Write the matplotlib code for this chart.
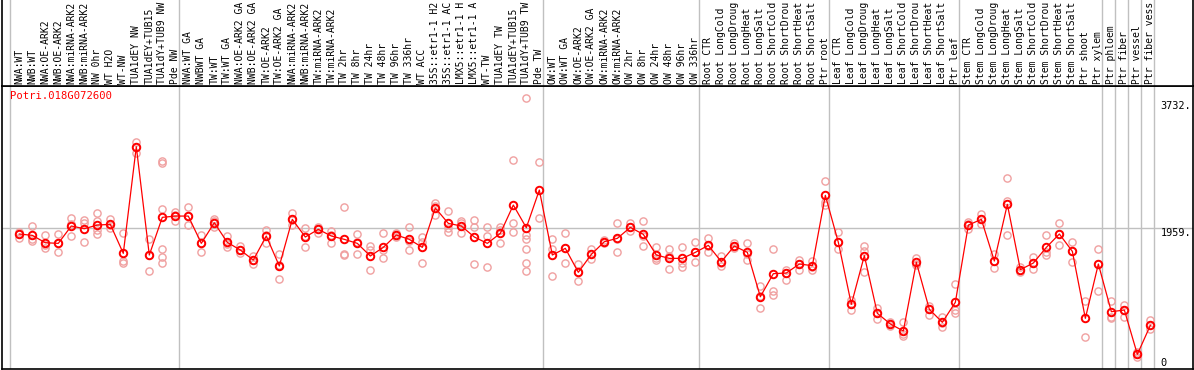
import numpy as np
import matplotlib
matplotlib.use("Agg")
import matplotlib.pyplot as plt

# sample names, in plotting order
labels = [
    "NWA:WT", "NWB:WT", "NWA:OE-ARK2", "NWB:OE-ARK2", "NWA:miRNA-ARK2", "NWB:miRNA-ARK2",
    "NW 0hr", "WT H2O", "WT-NW", "TUA1dEY NW", "TUA1dEY+TUB15 NW", "TUA1dY+TUB9 NW", "Pde NW",
    "NWA:WT GA", "NWBWT GA", "TW:WT", "TW:WT GA", "NWA:OE-ARK2 GA", "NWB:OE-ARK2 GA",
    "TW:OE-ARK2", "TW:OE-ARK2 GA", "NWA:miRNA-ARK2", "NWB:miRNA-ARK2", "TW:miRNA-ARK2",
    "TW:miRNA-ARK2", "TW 2hr", "TW 8hr", "TW 24hr", "TW 48hr", "TW 96hr", "TW 336hr", "WT ACC",
    "35S::etr1-1 H2O", "35S::etr1-1 ACC", "LMX5::etr1-1 H2O", "LMX5::etr1-1 ACC", "WT-TW",
    "TUA1dEY TW", "TUA1dEY+TUB15 TW", "TUA1dY+TUB9 TW", "Pde TW",
    "OW:WT", "OW:WT GA", "OW:OE-ARK2", "OW:OE-ARK2 GA", "OW:miRNA-ARK2", "OW:miRNA-ARK2",
    "OW 2hr", "OW 8hr", "OW 24hr", "OW 48hr", "OW 96hr", "OW 336hr",
    "Root CTR", "Root LongCold", "Root LongDrought", "Root LongHeat", "Root LongSalt",
    "Root ShortCold", "Root ShortDrought", "Root ShortHeat", "Root ShortSalt", "Ptr root",
    "Leaf CTR", "Leaf LongCold", "Leaf LongDrought", "Leaf LongHeat", "Leaf LongSalt",
    "Leaf ShortCold", "Leaf ShortDrought", "Leaf ShortHeat", "Leaf ShortSalt", "Ptr leaf",
    "Stem CTR", "Stem LongCold", "Stem LongDrought", "Stem LongHeat", "Stem LongSalt",
    "Stem ShortCold", "Stem ShortDrought", "Stem ShortHeat", "Stem ShortSalt", "Ptr shoot",
    "Ptr xylem", "Ptr phloem", "Ptr fiber", "Ptr vessel", "Ptr fiber vessel",
]

# first sample of each group (group separators)
group_starts = [0, 13, 41, 53, 63, 73, 84, 85, 86, 87, 88]

# mean expression
means = [
    1875, 1856, 1753, 1744, 1987, 1949, 2000, 2010, 1604, 3096, 1581, 2108, 2126,
    2126, 1744, 2033, 1758, 1651, 1511, 1847, 1427, 2080, 1833, 1940, 1847, 1800,
    1744, 1567, 1688, 1861, 1800, 1688, 2238, 2024, 1987, 1833, 1744, 1884, 2280,
    1963, 2490,
    1581, 1674, 1339, 1590, 1767, 1814, 1968, 1870, 1581, 1534, 1534, 1618,
    1716, 1488, 1707, 1618, 997, 1320, 1329, 1455, 1432, 2416,
    1758, 891, 1572, 765, 616, 518, 1479, 821, 639, 919,
    2000, 2080, 1497, 2290, 1376, 1469, 1688, 1875, 1632, 695, 1455,
    788, 811, 191, 597,
]

# replicate values
reps = [
    [1907, 1875, 1814], [1987, 1805, 1781], [1861, 1721, 1683], [1870, 1744, 1618],
    [2098, 2010, 1851], [2070, 2024, 1767], [2173, 2057, 1931, 1875], [2080, 2000, 1960],
    [1884, 1497, 1465], [3166, 3096, 3003], [1800, 1581, 1353],
    [2896, 2864, 2224, 1665, 1558, 1465], [2187, 2134, 2057],
    [2248, 2126, 2000], [1861, 1744, 1627], [2080, 2050, 1968], [1851, 1735, 1688],
    [1707, 1651, 1604], [1567, 1511, 1455], [1931, 1866, 1744], [1595, 1441, 1245],
    [2173, 2070, 2000], [1954, 1850, 1697], [1977, 1950, 1893], [1921, 1866, 1753],
    [2248, 1595, 1576], [1870, 1770, 1590], [1711, 1651, 1367], [1884, 1650, 1534],
    [1884, 1861, 1840], [1968, 1781, 1651], [1828, 1767, 1465], [2313, 2260, 2141],
    [2196, 1954, 1907], [2050, 2028, 1884], [2070, 1968, 1460], [1977, 1847, 1409],
    [1977, 1930, 1744], [2910, 2024, 1898], [3773, 1861, 1805, 1665, 1465, 1353],
    [2882, 2094],
    [1805, 1660, 1287], [1884, 1674, 1465], [1460, 1339, 1222], [1665, 1590, 1520],
    [1790, 1767, 1745], [2024, 1800, 1618], [2024, 1968, 1921], [2057, 1846, 1707],
    [1697, 1534, 1511], [1660, 1562, 1381], [1688, 1465, 1418], [1758, 1618, 1479],
    [1814, 1707, 1627], [1567, 1465, 1432], [1744, 1707, 1674], [1744, 1600, 1511],
    [1147, 1009, 835], [1660, 1077, 1021], [1371, 1329, 1236], [1516, 1455, 1376],
    [1502, 1420, 1376], [2617, 2327, 2280],
    [1898, 1758, 1665], [951, 891, 811], [1711, 1637, 1348], [835, 765, 690],
    [640, 616, 590], [639, 470, 446], [1544, 1460, 1441], [868, 821, 742],
    [718, 630, 569], [1176, 816, 769],
    [2047, 2010, 1940], [2155, 2080, 2015], [1590, 1500, 1395], [2663, 2336, 1861],
    [1413, 1376, 1343], [1553, 1469, 1390], [1861, 1630, 1581], [2024, 1880, 1721],
    [1767, 1640, 1488], [942, 438], [1660, 1460, 1073],
    [937, 718, 695], [881, 811, 718], [219, 191, 158], [672, 597, 541],
]

gene = "Potri.018G072600"
ytick_vals = [3732, 1959, 0]

W, H = 1194, 370
mono = "DejaVu Sans Mono"
grey = "#c0c0c0"
NCHAR = 14  # the label strip only holds this many characters

fig = plt.figure(figsize=(W / 100, H / 100), dpi=100)
ax = fig.add_axes([2 / W, 1 / H, 1191 / W, 283 / H])
top = fig.add_axes([2 / W, 284 / H, 1191 / W, 86 / H], sharex=ax)

x = np.arange(len(labels))
ax.set_xlim(-1.33, 90.28)
ax.set_ylim(-14, 3946)

for k in group_starts:
    ax.axvline(k - 0.715, color=grey, lw=1, zorder=0)
    top.axvline(k - 0.715, color=grey, lw=1, zorder=0)
ax.axhline(ytick_vals[1], color=grey, lw=1, zorder=0)

for i, r in enumerate(reps):
    ax.plot([i] * len(r), r, "o", ms=5.2, mfc="none", mec="#f0a0a0", mew=1.0, zorder=2)
ax.plot(x, means, "-", color="red", lw=0.9, zorder=3)
ax.plot(x, means, "o", ms=5.4, mfc="none", mec="red", mew=1.4, zorder=4)

for v in ytick_vals:
    txt = "0" if v == 0 else f"{v}."
    ax.text(87.8, v, txt, family=mono, fontsize=7.4, ha="left",
            va="bottom" if v == 0 else "top")

fig.text(10 / W, 1 - 91 / H, gene, family=mono, fontsize=7.6, color="red", va="top")

for i, lab in enumerate(labels):
    top.text(i, 2 / 86, lab[:NCHAR].rstrip(), rotation=90, family=mono, fontsize=7.0,
             ha="center", va="bottom", transform=top.get_xaxis_transform(), clip_on=False)

for a in (ax, top):
    a.set_xticks([])
    a.set_yticks([])
    for s in a.spines.values():
        s.set_linewidth(1.2)
top.spines["top"].set_visible(False)
top.set_ylim(0, 1)

fig.savefig("out.png", dpi=100)
